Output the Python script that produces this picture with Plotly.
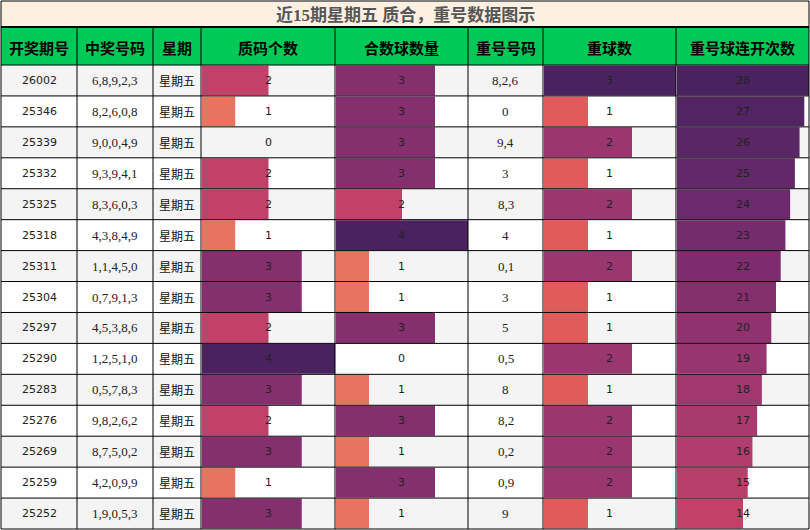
import plotly.graph_objects as go
from plotly.colors import sample_colorscale

# 数据
title = "近15期星期五 质合，重号数据图示"
headers = ["开奖期号", "中奖号码", "星期", "质码个数", "合数球数量", "重号号码", "重球数", "重号球连开次数"]
qihao = ["26002", "25346", "25339", "25332", "25325", "25318", "25311", "25304",
         "25297", "25290", "25283", "25276", "25269", "25259", "25252"]
haoma = ["6,8,9,2,3", "8,2,6,0,8", "9,0,0,4,9", "9,3,9,4,1", "8,3,6,0,3", "4,3,8,4,9",
         "1,1,4,5,0", "0,7,9,1,3", "4,5,3,8,6", "1,2,5,1,0", "0,5,7,8,3", "9,8,2,6,2",
         "8,7,5,0,2", "4,2,0,9,9", "1,9,0,5,3"]
xingqi = ["星期五"] * 15
zhima = [2, 1, 0, 2, 2, 1, 3, 3, 2, 4, 3, 2, 3, 1, 3]
heshu = [3, 3, 3, 3, 2, 4, 1, 1, 3, 0, 1, 3, 1, 3, 1]
chonghao = ["8,2,6", "0", "9,4", "3", "8,3", "4", "0,1", "3", "5", "0,5", "8", "8,2", "0,2", "0,9", "9"]
chongqiu = [3, 1, 2, 1, 2, 1, 2, 1, 1, 2, 1, 2, 2, 2, 1]
liankai = [28, 27, 26, 25, 24, 23, 22, 21, 20, 19, 18, 17, 16, 15, 14]

# 版式
W, H = 810, 530
edges = [1, 77, 153, 201, 335, 468, 543, 676, 809]
title_bot = 27
head_bot = 65
row_h = (529 - head_bot) / len(qihao)

flare = [[0.0, "#edb081"], [0.25, "#e8735f"], [0.333, "#e05c5c"], [0.5, "#c2416a"],
         [0.667, "#9a3670"], [0.75, "#862f6f"], [0.86, "#6a2a6c"], [1.0, "#4b2260"]]

n = len(qihao)
ys = [head_bot + (i + 0.5) * row_h for i in range(n)]

fig = go.Figure()
shapes = []
annotations = []

# 标题与表头背景
shapes.append(dict(type="rect", x0=1, x1=809, y0=1, y1=title_bot, fillcolor="#fdf0e2",
                   line=dict(color="black", width=1), layer="below"))
shapes.append(dict(type="rect", x0=1, x1=809, y0=title_bot, y1=head_bot, fillcolor="#00c957",
                   line=dict(width=0), layer="below"))
for i in range(n):
    shapes.append(dict(type="rect", x0=1, x1=809, y0=head_bot + i * row_h, y1=head_bot + (i + 1) * row_h,
                       fillcolor="#f4f4f4" if i % 2 == 0 else "white", line=dict(width=0), layer="below"))

annotations.append(dict(x=405, y=title_bot / 2 + 1, text="<b>" + title + "</b>", showarrow=False,
                        font=dict(family="Liberation Serif, Noto Sans CJK SC", size=17, color="#555")))
for j, h in enumerate(headers):
    annotations.append(dict(x=(edges[j] + edges[j + 1]) / 2, y=(title_bot + head_bot) / 2 + 1,
                            text="<b>" + h + "</b>", showarrow=False,
                            font=dict(family="Noto Sans CJK SC", size=15, color="black")))

# 数据条
bar_cols = [(3, zhima), (4, heshu), (6, chongqiu), (7, liankai)]
for j, vals in bar_cols:
    left, right = edges[j], edges[j + 1]
    vmax = max(vals)
    lens = [v / vmax * (right - left - 1) for v in vals]
    colors = sample_colorscale(flare, [v / vmax for v in vals])
    fig.add_trace(go.Bar(orientation="h", y=ys, x=lens, base=left + 1, width=row_h - 1,
                         marker=dict(color=colors, line=dict(width=0)), hoverinfo="skip",
                         showlegend=False))

# 文字
text_cols = [
    (qihao, "DejaVu Sans", 11, "#222"),
    (haoma, "Liberation Serif", 13, "#222"),
    (xingqi, "Noto Sans CJK SC", 12, "#111"),
    (zhima, "DejaVu Sans", 11, "#222"),
    (heshu, "DejaVu Sans", 11, "#222"),
    (chonghao, "Liberation Serif", 13, "#222"),
    (chongqiu, "DejaVu Sans", 11, "#222"),
    (liankai, "DejaVu Sans", 11, "#222"),
]
for j, (vals, fam, size, col) in enumerate(text_cols):
    cx = (edges[j] + edges[j + 1]) / 2
    for i, v in enumerate(vals):
        annotations.append(dict(x=cx, y=ys[i], text=str(v), showarrow=False,
                                font=dict(family=fam, size=size, color=col)))

# 表格线
for i in range(n + 1):
    y = head_bot + i * row_h
    shapes.append(dict(type="line", x0=1, x1=809, y0=y, y1=y, line=dict(color="black", width=1), layer="above"))
shapes.append(dict(type="line", x0=1, x1=809, y0=title_bot, y1=title_bot, line=dict(color="black", width=2), layer="above"))
for x in edges:
    shapes.append(dict(type="line", x0=x, x1=x, y0=title_bot, y1=529, line=dict(color="black", width=1), layer="above"))

fig.update_layout(
    width=W, height=H, margin=dict(l=0, r=0, t=0, b=0),
    paper_bgcolor="white", plot_bgcolor="white",
    xaxis=dict(range=[0, W], visible=False, fixedrange=True),
    yaxis=dict(range=[H, 0], visible=False, fixedrange=True),
    shapes=shapes, annotations=annotations, barmode="overlay",
)

fig.write_html("out.html", config={"displayModeBar": False},
               post_script="document.body.style.margin='0';")
